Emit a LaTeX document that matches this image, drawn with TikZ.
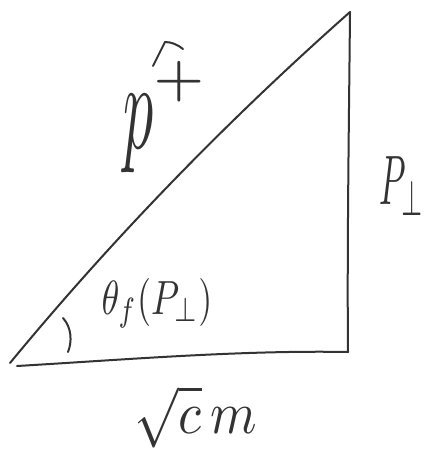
\documentclass[tikz,border=0pt]{standalone}
\usepackage{amsmath}
\usepackage{graphicx}
\tikzset{
  stroke/.style={line width=2pt, color=black!80, line cap=round, line join=round},
  lbl/.style={inner sep=0pt, color=black!80}
}
\begin{document}
\begin{tikzpicture}[x=1pt,y=-1pt]
\useasboundingbox (0,0) rectangle (429,452);
\coordinate (A) at (10,363);
\coordinate (A2) at (17,366);
\coordinate (B) at (348,352);
\coordinate (C) at (350,12);
% sides
\draw[stroke] (A) .. controls (114,237) and (228,120) .. (C);
\draw[stroke] (C) .. controls (349,120) and (347,250) .. (B);
\draw[stroke] (A2) .. controls (120,360) and (240,350) .. (B);
% angle arc
\coordinate (R1) at (63,318);
\coordinate (R2) at (68,352);
\draw[stroke] (R1) .. controls (72,328) and (72,342) .. (R2);
% labels
\node[lbl, xscale=6, yscale=12.5, anchor=base west] (hyp) at (122,148)
  {$p^{\raisebox{0.6pt}{\scalebox{1.4}[0.63]{$\scriptstyle+$}}}$};
\coordinate (H1) at (153,66);
\coordinate (H2) at (165,42);
\coordinate (H3) at (183,49);
\draw[stroke] (H1) -- (H2) .. controls (172,42) and (178,45) .. (H3);
\node[lbl, xscale=3.4, yscale=7] (leg) at (402,186) {$P_{\perp}$};
\node[lbl, xscale=3.6, yscale=4.8] (ang) at (157,303) {$\theta_f(P_{\perp})$};
\node[lbl, xscale=5.3, yscale=6] (base) at (196,417) {$\sqrt{c}\,m$};
\end{tikzpicture}
\end{document}
